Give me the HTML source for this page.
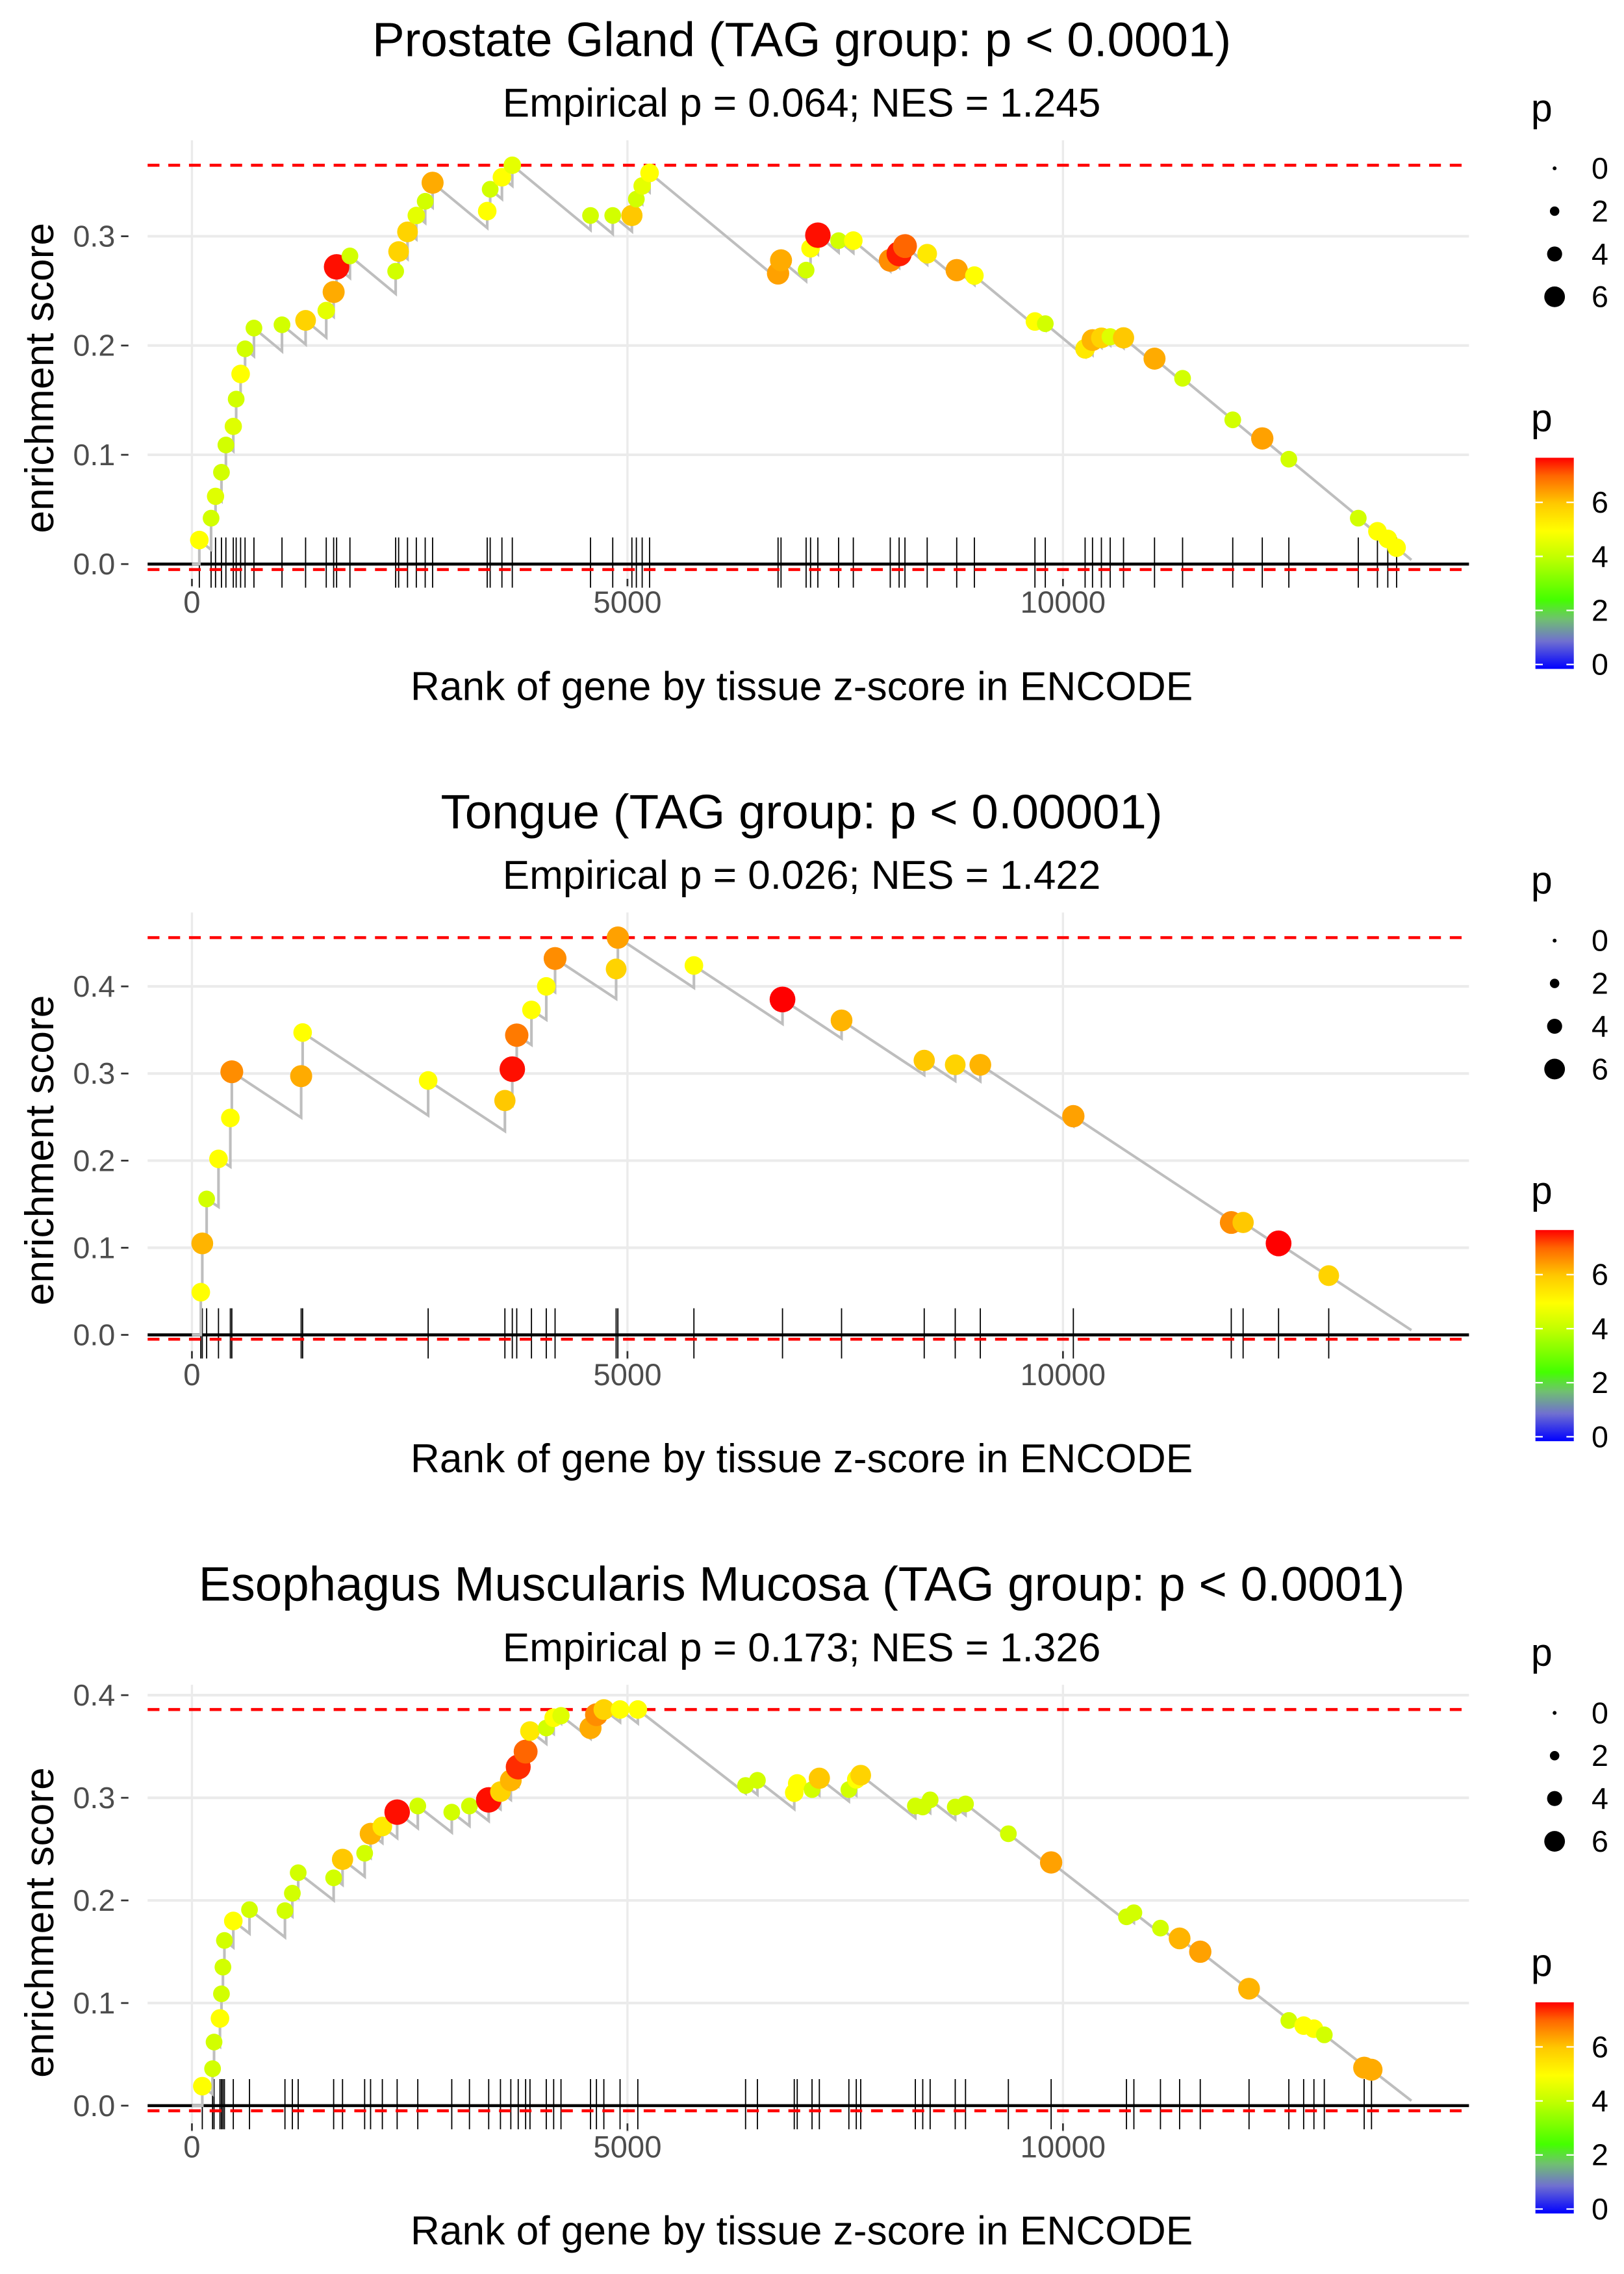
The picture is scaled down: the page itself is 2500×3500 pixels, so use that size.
<!DOCTYPE html>
<html><head><meta charset="utf-8"><style>
html,body{margin:0;padding:0;background:#fff;}
svg{display:block;font-family:"Liberation Sans",Arial,sans-serif;}
</style></head><body>
<svg id="chart" width="2500" height="3500" viewBox="0 0 1100 1540" preserveAspectRatio="none" xmlns="http://www.w3.org/2000/svg"></svg>
<script>
// ---------- data ----------
const xTicks = [0, 5000, 10000];
const xTickLabels = ["0", "5000", "10000"];
const nGenes = 14000;
const sizeLegendValues = [0, 2, 4, 6];
const colorLegendValues = [0, 2, 4, 6];

const titles = ["Prostate Gland (TAG group: p < 0.0001)", "Tongue (TAG group: p < 0.00001)", "Esophagus Muscularis Mucosa (TAG group: p < 0.0001)"];
const subtitles = ["Empirical p = 0.064; NES = 1.245", "Empirical p = 0.026; NES = 1.422", "Empirical p = 0.173; NES = 1.326"];
const yTicks1 = [0, 0.1, 0.2, 0.3];
const yTicks2 = [0, 0.1, 0.2, 0.3, 0.4];
const yTicks3 = [0, 0.1, 0.2, 0.3, 0.4];
const maxES = [0.365, 0.456, 0.386];

const rank1 = [85,220,271,339,390,475,508,559,610,712,1034,1305,1542,1627,1661,1814,2339,2373,2475,2576,2678,2763,3390,3424,3559,3678,4576,4831,5051,5102,5169,5254,6729,6763,7051,7102,7186,7424,7593,8017,8119,8186,8441,8780,8983,9678,9797,10254,10339,10441,10542,10695,11051,11373,11949,12288,12593,13390,13610,13729,13830];
const es1 = [0.022,0.042,0.062,0.084,0.109,0.126,0.151,0.174,0.197,0.216,0.219,0.223,0.232,0.249,0.272,0.282,0.268,0.286,0.304,0.319,0.332,0.349,0.323,0.343,0.354,0.365,0.319,0.319,0.319,0.334,0.346,0.358,0.266,0.278,0.269,0.289,0.301,0.296,0.296,0.278,0.284,0.291,0.284,0.269,0.264,0.222,0.220,0.197,0.205,0.207,0.208,0.207,0.188,0.170,0.132,0.115,0.096,0.042,0.030,0.023,0.015];
const p1 = [5,4.3,4.5,4.3,4.3,4.5,4.3,5,4.3,4.3,4.3,5.8,4.6,6.3,7.6,4.3,4.3,5.8,5.8,4.6,4.3,6.3,5,4.3,5,4.6,4.3,4.3,6,4.3,4.6,5,6.4,6.3,4.3,5,7.6,4.3,5,6.6,7.5,7,5.4,6.4,5,5,4.3,5.4,6.2,5.8,4.5,6,6.3,4.3,4.3,6.4,4.3,4.3,5,5,5];

const rank2 = [102,119,169,305,441,458,1254,1271,2712,3593,3678,3729,3898,4068,4169,4870,4890,5763,6780,7458,8407,8763,9051,10119,11932,12068,12475,13051];
const es2 = [0.049,0.105,0.156,0.202,0.249,0.302,0.297,0.347,0.292,0.269,0.305,0.344,0.373,0.400,0.432,0.420,0.456,0.424,0.385,0.361,0.315,0.310,0.310,0.251,0.129,0.129,0.105,0.068];
const p2 = [5,6.2,4.3,5,5,6.6,6.3,5,5,6,7.6,6.8,5,5,6.6,5.8,6.4,5,7.7,6.2,6,5.8,6.2,6.4,6.6,6,7.7,5.8];

const rank3 = [119,237,254,322,339,356,373,475,661,1068,1153,1220,1627,1729,1983,2051,2186,2356,2593,2983,3186,3407,3542,3661,3746,3831,3881,4068,4153,4237,4576,4644,4729,4915,5119,6356,6492,6915,6949,7119,7203,7542,7627,7678,8305,8390,8475,8763,8881,9373,9864,10729,10814,11119,11339,11576,12136,12593,12763,12881,13000,13458,13542];
const es3 = [0.019,0.036,0.062,0.085,0.109,0.135,0.161,0.180,0.191,0.190,0.207,0.227,0.222,0.240,0.246,0.265,0.272,0.286,0.292,0.286,0.292,0.298,0.306,0.317,0.330,0.345,0.365,0.368,0.378,0.380,0.368,0.381,0.386,0.386,0.386,0.312,0.317,0.305,0.314,0.308,0.319,0.308,0.318,0.322,0.292,0.291,0.298,0.291,0.294,0.265,0.237,0.184,0.188,0.173,0.163,0.150,0.114,0.083,0.078,0.075,0.069,0.037,0.035];
const p3 = [5,4.3,4.3,5,4.3,4.3,4.3,5,4.3,4.3,4.3,4.3,4.3,6,4.3,6.2,5.4,7.6,4.3,4.3,4.3,7.6,5.8,6.2,7.4,7,5.4,4.3,5,4.5,6.3,6.6,5.8,5,5,4.3,4.3,5,5,4.3,6,4.3,5,5.8,4.3,4.3,4.3,4.3,4.3,4.3,6.4,4.3,4.3,4.3,6.2,6.4,6.2,4.3,5,5,4.3,6.3,6.3];

const panels = [
  {rank: rank1, es: es1, p: p1, yTicks: yTicks1, maxES: maxES[0], off: 0, y0: 382, yPer: 740},
  {rank: rank2, es: es2, p: p2, yTicks: yTicks2, maxES: maxES[1], off: 523, y0: 904, yPer: 590},
  {rank: rank3, es: es3, p: p3, yTicks: yTicks3, maxES: maxES[2], off: 1046, y0: 1426, yPer: 695}
];

// ---------- helpers ----------
const NS = "http://www.w3.org/2000/svg";
const svg = document.getElementById("chart");
function el(tag, attrs, parent, txt) {
  const e = document.createElementNS(NS, tag);
  for (const k in attrs) e.setAttribute(k, attrs[k]);
  if (txt !== undefined) e.textContent = txt;
  (parent || svg).appendChild(e);
  return e;
}
const xScale = r => 130 + r * 0.059;
const sizeScale = p => 1.8 + 0.9 * p;
const stops = [[0,[0,0,255]],[1,[112,112,208]],[1.8,[112,192,112]],[2.5,[68,255,0]],[4,[190,255,0]],[5,[255,255,0]],[6,[255,200,0]],[7,[255,102,0]],[7.7,[255,0,0]]];
function colorScale(p) {
  if (p <= stops[0][0]) return "rgb(0,0,255)";
  for (let i = 1; i < stops.length; i++) {
    if (p <= stops[i][0]) {
      const t = (p - stops[i-1][0]) / (stops[i][0] - stops[i-1][0]);
      const a = stops[i-1][1], b = stops[i][1];
      return "rgb(" + a.map((v, j) => Math.round(v + (b[j] - v) * t)).join(",") + ")";
    }
  }
  return "rgb(255,0,0)";
}
const slope = 6.6e-5;

const defs = el("defs", {});
const grad = el("linearGradient", {id: "pgrad", x1: 0, y1: 1, x2: 0, y2: 0}, defs);
stops.forEach(s => {
  el("stop", {offset: (s[0] / 7.65), "stop-color": "rgb(" + s[1].join(",") + ")"}, grad);
});

panels.forEach((P, pi) => {
  const g = el("g", {});
  
  
  const yS = v => P.y0 - v * P.yPer;
  const top = P.off + 95, bottom = P.off + 398;

  const t = el("text", {x: 543, y: P.off + 38, "text-anchor": "middle", "font-size": 32.8, fill: "#000"}, g, titles[pi]);
  
  
  const st = el("text", {x: 543, y: P.off + 79, "text-anchor": "middle", "font-size": 27.3, fill: "#000"}, g, subtitles[pi]);
  
  

  P.yTicks.forEach(v => {
    const gl = el("line", {x1: 100, x2: 995, y1: yS(v), y2: yS(v), stroke: "#ebebeb", "stroke-width": 1.8}, g);
    
    
    const tl = el("text", {x: 78, y: yS(v) + 7, "text-anchor": "end", "font-size": 20.5, fill: "#4d4d4d"}, g, v.toFixed(1));
    
    
    const tk = el("line", {x1: 82, x2: 87, y1: yS(v), y2: yS(v), stroke: "#333", "stroke-width": 1.2}, g);
    
    
  });
  xTicks.forEach((v, i) => {
    const gl = el("line", {x1: xScale(v), x2: xScale(v), y1: top, y2: bottom, stroke: "#ebebeb", "stroke-width": 1.5}, g);
    
    
    const tk = el("line", {x1: xScale(v), x2: xScale(v), y1: P.off + 392, y2: P.off + 397, stroke: "#333", "stroke-width": 1.2}, g);
    
    
    const tl = el("text", {x: xScale(v), y: P.off + 415, "text-anchor": "middle", "font-size": 20.8, fill: "#4d4d4d"}, g, xTickLabels[i]);
    
    
  });
  const xt = el("text", {x: 543, y: P.off + 474, "text-anchor": "middle", "font-size": 27.4, fill: "#000"}, g, "Rank of gene by tissue z-score in ENCODE");
  
  
  const yc = P.off + 256;
  const yt = el("text", {x: 36, y: yc, "text-anchor": "middle", "font-size": 27.4, fill: "#000", transform: "rotate(-90 36 " + yc + ")"}, g, "enrichment score");
  
  

  const minES = -0.005;
  const d1 = el("line", {x1: 100, x2: 995, y1: yS(P.maxES), y2: yS(P.maxES), stroke: "#ff0000", "stroke-width": 2, "stroke-dasharray": "8,6"}, g);
  
  

  P.rank.forEach(r => {
    const rl = el("line", {x1: xScale(r), x2: xScale(r), y1: yS(0) - 18, y2: yS(0) + 16, stroke: "#000", "stroke-width": 0.8}, g);
    
    
  });
  const zl = el("line", {x1: 100, x2: 995, y1: yS(0), y2: yS(0), stroke: "#000", "stroke-width": 2}, g);
  
  
  const d2 = el("line", {x1: 100, x2: 995, y1: yS(minES), y2: yS(minES), stroke: "#ff0000", "stroke-width": 2, "stroke-dasharray": "8,6"}, g);
  
  

  let pts = [[xScale(0), yS(0)]];
  let prevR = 0, prevE = 0;
  P.rank.forEach((r, i) => {
    const drop = Math.max(prevE - slope * (r - prevR), 0);
    pts.push([xScale(r), yS(drop)]);
    pts.push([xScale(r), yS(P.es[i])]);
    prevR = r; prevE = P.es[i];
  });
  pts.push([xScale(nGenes), yS(Math.max(prevE - slope * (nGenes - prevR), 0))]);
  const pl = el("polyline", {points: pts.map(p => p.join(",")).join(" "), fill: "none", stroke: "#bebebe", "stroke-width": 1.8}, g);
  
  

  P.rank.forEach((r, i) => {
    const c = el("circle", {cx: xScale(r), cy: yS(P.es[i]), r: sizeScale(P.p[i]), fill: colorScale(P.p[i])}, g);
    
    
  });

  const lg = el("g", {}, g);
  
  
  el("text", {x: 1037, y: P.off + 82, "font-size": 26, fill: "#000"}, lg, "p");
  sizeLegendValues.forEach((v, i) => {
    const yy = P.off + 114 + i * 29;
    const c = el("circle", {cx: 1053, cy: yy, r: 1.3 + 0.95 * v, fill: "#000"}, lg);
    
    
    const tx = el("text", {x: 1078, y: yy + 7, "font-size": 20.5, fill: "#000"}, lg, String(v));
    
    
  });
  const cg = el("g", {}, g);
  
  
  el("text", {x: 1037, y: P.off + 292, "font-size": 26, fill: "#000"}, cg, "p");
  const bar = el("rect", {x: 1040, y: P.off + 310, width: 26, height: 143, fill: "url(#pgrad)"}, cg);
  
  
  colorLegendValues.forEach(v => {
    const yy = P.off + 450 - v * 18.3;
    el("line", {x1: 1040, x2: 1045, y1: yy, y2: yy, stroke: "#fff", "stroke-width": 1}, cg);
    el("line", {x1: 1061, x2: 1066, y1: yy, y2: yy, stroke: "#fff", "stroke-width": 1}, cg);
    const tx = el("text", {x: 1078, y: yy + 7, "font-size": 20.5, fill: "#000"}, cg, String(v));
    
    
  });
});
</script>
</body></html>
